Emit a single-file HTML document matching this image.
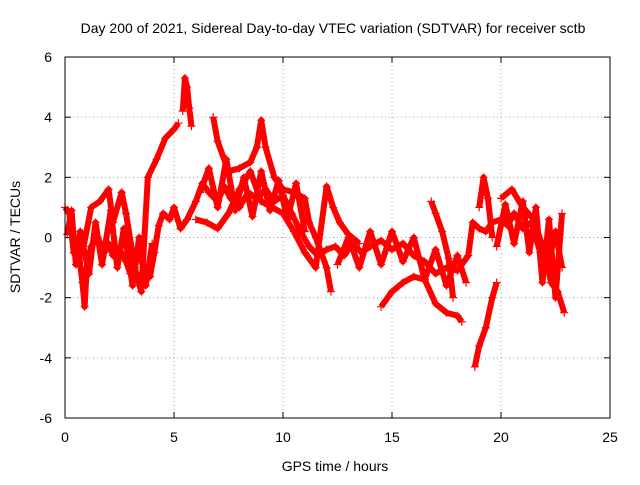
<!DOCTYPE html>
<html><head><meta charset="utf-8"><style>
body{margin:0;background:#fff;}
svg text{font-family:"Liberation Sans",sans-serif;fill:#000;}
</style></head><body>
<svg width="640" height="480" xmlns="http://www.w3.org/2000/svg">
<rect width="640" height="480" fill="#fff"/>
<text x="333" y="33" font-size="14" text-anchor="middle">Day 200 of 2021, Sidereal Day-to-day VTEC variation (SDTVAR) for receiver sctb</text>
<g id="grid"></g>
<g id="axes"></g>
<g id="series"></g>
<rect x="65" y="57" width="545" height="361" fill="none" stroke="#000" stroke-width="1"/>
<text x="335" y="471" font-size="14" text-anchor="middle">GPS time / hours</text>
<text transform="translate(20,237) rotate(-90)" font-size="14" text-anchor="middle">SDTVAR / TECUs</text>
</svg>
<script>
const xTicks=[0,5,10,15,20,25];
const yTicks=[-6,-4,-2,0,2,4,6];
const trackA=[[0,1.0],[0.2,0.8],[0.4,-0.5],[0.6,-0.3],[0.8,-1.5],[0.9,-2.3],[1.0,-1.0],[1.2,-0.3],[1.5,0],[1.8,-0.5],[2.0,-0.2],[2.2,-0.6],[2.5,-0.4],[2.8,-0.8],[3.0,-1.2],[3.3,-0.6],[3.6,-0.9],[3.9,-1.3],[4.1,-0.5],[4.3,0.4],[4.5,0.8],[4.8,0.6],[5.0,1.0],[5.3,0.3],[5.6,0.6],[6.0,1.2],[6.3,1.8],[6.6,1.5],[7.0,1.2],[7.3,1.7],[7.6,1.3],[8.0,1.0],[8.4,1.5],[8.8,1.3],[9.2,1.6],[9.6,1.2],[10.0,1.4],[10.4,0.8],[10.8,0.2],[11.2,-0.3],[11.6,-0.6],[12.0,-0.4],[12.4,-0.3],[12.8,-0.6],[13.2,-0.2],[13.6,-0.5],[14.0,-0.3],[14.5,-0.1],[15.0,-0.4],[15.5,-0.2],[16.0,-0.6],[16.5,-0.8],[17.0,-1.2],[17.5,-1.0],[18.0,-1.1],[18.5,-0.6],[18.7,0.5],[19.0,0.3],[19.3,0.2],[19.6,0.5],[20.0,0.6],[20.3,0.4],[20.6,0.8],[21.0,0.3],[21.4,0.5],[21.8,-0.5],[22.2,-0.8],[22.5,0.2],[22.8,-1.0]];
const trackB=[[0.8,-0.5],[1.2,1.0],[1.6,1.2],[2.0,1.6],[2.2,0.5],[2.6,1.5],[2.8,0.8],[3.2,-1.0],[3.5,-1.8],[3.8,2.0],[4.2,2.6],[4.6,3.3],[5.0,3.6],[5.2,3.8]];
const trackC=[[5.4,4.2],[5.5,5.3],[5.6,5.0],[5.7,4.3],[5.8,3.7]];
const trackD=[[6.8,4.0],[7.0,3.2],[7.5,2.2],[8.0,2.3],[8.5,2.5],[8.8,3.0],[9.0,3.9],[9.2,3.0],[9.6,2.0],[10.0,1.6],[10.5,1.5],[11.0,1.3],[11.2,0.5],[11.5,0.0],[12.0,-1.0],[12.2,-1.8]];
const trackE=[[6.0,0.6],[6.5,0.5],[7.0,0.3],[7.5,0.8],[8.0,1.6],[8.5,2.2],[9.0,1.2],[9.5,1.0],[10.0,0.8],[10.5,0.2],[11.0,-0.5],[11.5,-1.0],[12.0,1.7],[12.3,1.0],[12.6,0.5],[13.0,0.1],[13.5,-0.2]];
const trackF=[[14.5,-2.3],[15.0,-1.8],[15.5,-1.5],[16.0,-1.3],[16.5,-1.4],[17.0,-2.2],[17.5,-2.5],[18.0,-2.6],[18.2,-2.8]];
const trackG=[[16.8,1.2],[17.0,0.8],[17.3,0.2],[17.6,-0.7],[17.8,-2.0]];
const trackH=[[18.8,-4.3],[19.0,-3.6],[19.3,-3.0],[19.6,-2.0],[19.8,-1.5]];
const trackI=[[19.0,1.0],[19.2,2.0],[19.4,1.3],[19.6,0.0]];
const trackJ=[[20.0,1.3],[20.5,1.6],[21.0,1.0],[21.5,0.6],[22.0,-0.5],[22.3,-1.5],[22.6,-1.8],[22.9,-2.5]];
const trackK=[[6.2,1.5],[6.6,2.3],[7.0,1.0],[7.4,2.6],[7.8,0.9],[8.2,2.0],[8.6,0.7],[9.0,2.2],[9.4,0.9],[9.8,1.9],[10.2,0.6],[10.6,1.8],[11.0,0.2]];
const trackL=[[0.1,0.1],[0.3,0.9],[0.5,-0.9],[0.7,0.2],[1.1,-1.2],[1.4,0.5],[1.7,-0.9],[2.1,0.9],[2.4,-1.0],[2.7,0.3],[3.1,-1.6],[3.4,0.0],[3.7,-1.6],[4.0,-0.2]];
const trackM=[[12.5,-0.9],[13.0,0.0],[13.5,-1.0],[14.0,0.2],[14.5,-0.9],[15.0,0.2],[15.5,-0.8],[16.0,0.0],[16.5,-1.4],[17.0,-0.4],[17.5,-1.6],[18.0,-0.6],[18.4,-1.5]];
const trackN=[[19.8,-0.3],[20.2,1.1],[20.6,-0.2],[21.0,1.2],[21.3,-0.5],[21.6,1.0],[21.9,-1.5],[22.2,0.6],[22.5,-2.0],[22.8,0.8]];
const tracks=[trackA,trackB,trackC,trackD,trackE,trackF,trackG,trackH,trackI,trackJ,trackK,trackL,trackM,trackN];

const NS='http://www.w3.org/2000/svg';
const X0=65,X1=610,Y0=418,Y1=57;
const sx=v=>X0+(v-0)/(25-0)*(X1-X0);
const sy=v=>Y0-(v+6)/12*(Y0-Y1);
function mk(tag,attrs,parent){const e=document.createElementNS(NS,tag);for(const k in attrs)e.setAttribute(k,attrs[k]);parent.appendChild(e);return e;}
const grid=document.getElementById('grid'),axes=document.getElementById('axes'),ser=document.getElementById('series');
xTicks.forEach(t=>{const x=sx(t);
 if(t>0&&t<25){const g=mk('line',{x1:x,x2:x,y1:Y1,y2:Y0,stroke:'#a0a0a0','stroke-dasharray':'1,3'},grid);}
 const l=mk('line',{x1:x,x2:x,y1:Y0,y2:Y0-6,stroke:'#000'},axes);
 const l2=mk('line',{x1:x,x2:x,y1:Y1,y2:Y1+6,stroke:'#000'},axes);
 const tx=mk('text',{x:x,y:442,'font-size':14,'text-anchor':'middle'},axes);tx.textContent=t;});
yTicks.forEach(t=>{const y=sy(t);
 if(t>-6&&t<6){const g=mk('line',{x1:X0,x2:X1,y1:y,y2:y,stroke:'#a0a0a0','stroke-dasharray':'1,3'},grid);}
 const l=mk('line',{x1:X0,x2:X0+6,y1:y,y2:y,stroke:'#000'},axes);
 const l2=mk('line',{x1:X1,x2:X1-6,y1:y,y2:y,stroke:'#000'},axes);
 const tx=mk('text',{x:52,y:y+5,'font-size':14,'text-anchor':'end'},axes);tx.textContent=t;});
tracks.forEach(tr=>{
 const pl=mk('polyline',{points:tr.map(p=>sx(p[0])+','+sy(p[1])).join(' '),fill:'none',stroke:'#f00','stroke-width':6,'stroke-linejoin':'round'},ser);
 
 
 tr.forEach(p=>{const x=sx(p[0]),y=sy(p[1]);
  const m=mk('path',{d:`M${x-4},${y}H${x+4}M${x},${y-4}V${y+4}`,stroke:'#f00','stroke-width':1.2},ser);
  
  });
});
</script>
</body></html>
